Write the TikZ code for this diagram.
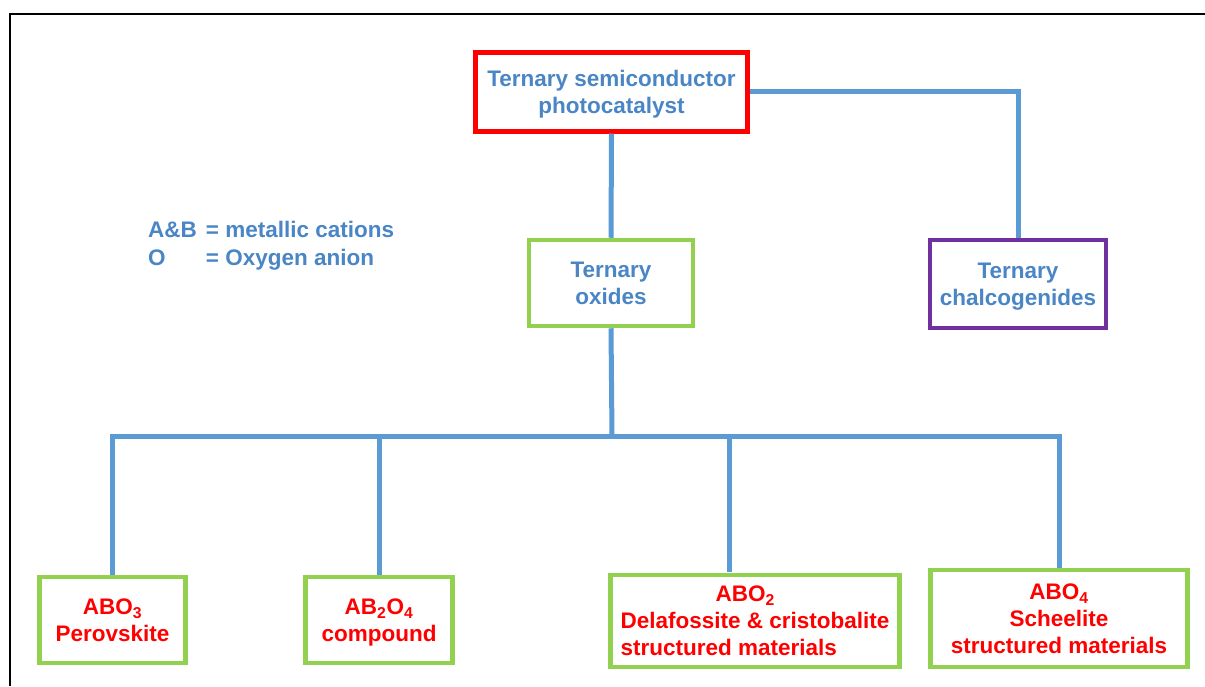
\documentclass[tikz,border=0pt]{standalone}
\usepackage{fontspec}
\setmainfont{Liberation Sans}
\definecolor{lineblue}{HTML}{5B9BD5}
\definecolor{textblue}{HTML}{4A86C6}
\definecolor{boxgreen}{HTML}{92D050}
\definecolor{boxpurple}{HTML}{7030A0}
\definecolor{boxred}{HTML}{FF0000}
\begin{document}
\begin{tikzpicture}[x=1pt,y=-1pt,
  box/.style={draw, line width=4.5pt, inner sep=0pt, align=center, text depth=0pt,
    font=\bfseries\fontsize{22.5}{27}\selectfont},
  bluetext/.style={text=textblue},
  redtext/.style={text=boxred},
  conn/.style={draw=lineblue, line width=5pt}]
\useasboundingbox (0,0) rectangle (1205,686);
\fill[white] (0,0) rectangle (1205,686);
\draw[line width=2pt] (10,686) -- (10,14) -- (1205,14);

\node[box, draw=boxred, line width=5pt, bluetext, minimum width=272pt, minimum height=79pt] (top) at (611.5,91.5) {Ternary semiconductor\\photocatalyst};
\node[box, draw=boxgreen, bluetext, minimum width=164pt, minimum height=86pt] (ox) at (611,283) {Ternary\\oxides};
\node[box, draw=boxpurple, bluetext, minimum width=176pt, minimum height=88pt] (ch) at (1018,284) {Ternary\\chalcogenides};

\node[box, draw=boxgreen, redtext, minimum width=146pt, minimum height=86pt] (a3) at (112.5,620) {ABO\textsubscript{3}\\Perovskite};
\node[box, draw=boxgreen, redtext, minimum width=147pt, minimum height=86pt] (a24) at (379,620) {AB\textsubscript{2}O\textsubscript{4}\\compound};
\node[box, draw=boxgreen, redtext, minimum width=289pt, minimum height=92pt, align=left] (a2) at (755,621) {\hspace*{95pt}ABO\textsubscript{2}\\Delafossite \& cristobalite\\structured materials};
\node[box, draw=boxgreen, redtext, minimum width=257pt, minimum height=97pt] (a4) at (1059,618.5) {ABO\textsubscript{4}\\Scheelite\\structured materials};

\node[anchor=base west, bluetext, inner sep=0pt, font=\bfseries\fontsize{22.5}{28}\selectfont] (legend) at (148,237)
  {\begin{tabular}[t]{@{}l@{\hspace{9pt}}l@{}}A\&B & = metallic cations\\ O & = Oxygen anion\end{tabular}};

\coordinate (bus) at (612,436);
\coordinate (a2in) at (729,572);

\draw[conn] (top.south) -- (ox.north);
\draw[conn] (top.east) -| (ch.north);
\draw[conn] (ox.south) -- (bus);
\draw[conn] (a3.north) |- (bus) -| (a4.north);
\draw[conn] (a24.north) -- (a24.north |- bus);
\draw[conn] (a2in) -- (a2in |- bus);
\end{tikzpicture}
\end{document}
